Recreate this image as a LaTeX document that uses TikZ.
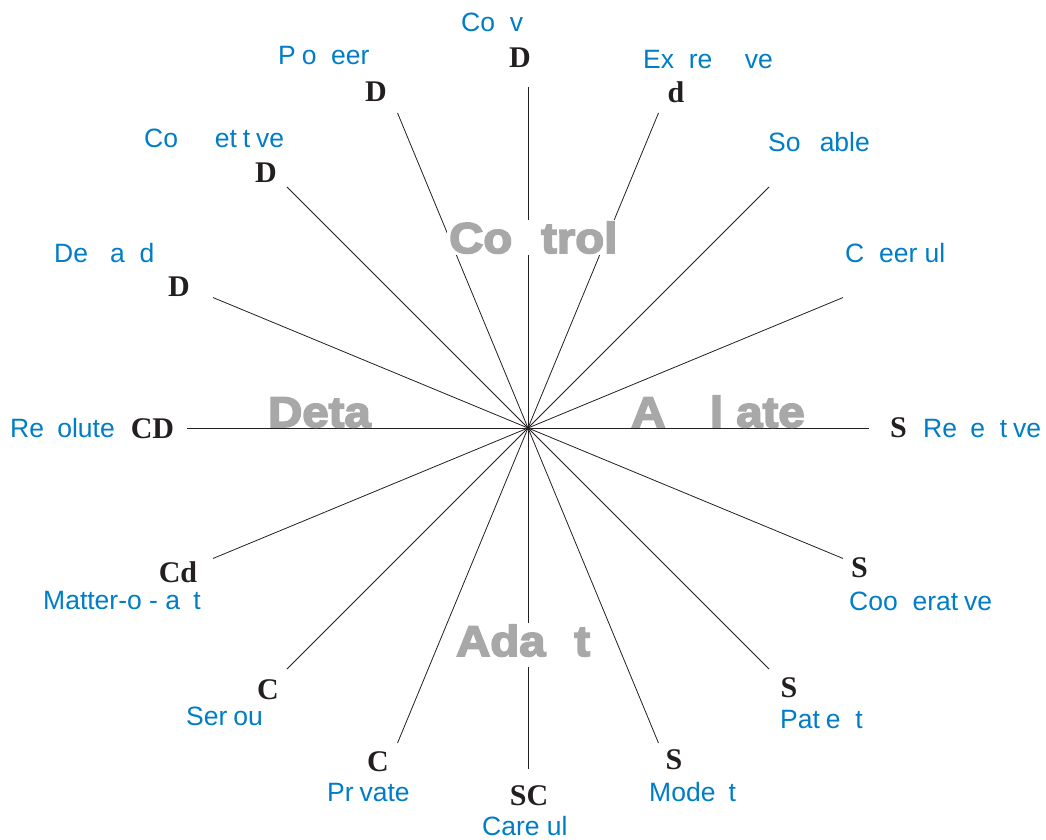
\documentclass[tikz,border=0pt]{standalone}
\usepackage{fontspec}
\setmainfont{Liberation Sans}
\newfontfamily\serifb{Liberation Serif}
\newfontfamily\grayfont{Liberation Sans}[FakeStretch=1.1,BoldFeatures={FakeBold=4}]
\definecolor{lblblue}{RGB}{0,125,198}
\definecolor{quadgray}{RGB}{168,168,168}
\definecolor{codeblack}{RGB}{35,31,32}
\tikzset{
  ray/.style={draw=codeblack, line width=0.8pt},
  code/.style={font=\serifb\bfseries\fontsize{30}{30}\selectfont, text=codeblack, inner sep=0pt, anchor=center},
  trait/.style={font=\fontsize{26.5}{26.5}\selectfont, text=lblblue, anchor=base west, inner sep=0pt},
  quad/.style={font=\grayfont\bfseries\fontsize{43}{43}\selectfont, text=quadgray, anchor=base west, inner sep=0pt},
  quadbox/.style={quad, fill=white, inner sep=2pt}
}
\begin{document}
\begin{tikzpicture}[x=1pt,y=-1pt]
\useasboundingbox (0,0) rectangle (1046,839);
\coordinate (O) at (528,428);
\foreach \a [count=\i] in {0,22.5,...,337.5}
  \path (O) ++(\a:341pt) coordinate (r\i);
\foreach \i in {1,...,16}
  \draw[ray] (O) -- (r\i);

% quadrant words
\node[quadbox] (control) at (447,253) {Co\phantom{n}trol};
\node[quadbox] (adapt) at (454,656) {Ada\phantom{p}t};
\node[quad] (detach) at (268,427) {Deta\phantom{ch}};
\node[quad] (affiliate) at (631,427) {A\phantom{ffi}l\phantom{i}ate};

% codes
\node[code] (c1) at (520,58) {D};
\node[code] (c2) at (376,92) {D};
\node[code] (c3) at (676,92) {d};
\node[code] (c4) at (266,173) {D};
\node[code] (c5) at (179,287) {D};
\node[code] (c6) at (152.5,429) {CD};
\node[code] (c7) at (178,572) {Cd};
\node[code] (c8) at (268,690) {C};
\node[code] (c9) at (378,762) {C};
\node[code] (c10) at (529,796) {SC};
\node[code] (c11) at (674,760) {S};
\node[code] (c12) at (789,688) {S};
\node[code] (c13) at (859.5,568) {S};
\node[code] (c14) at (898.5,428) {S};

% traits
\node[trait] (t1) at (461,31) {Co\phantom{n}v\phantom{incing}};
\node[trait] (t2) at (278,64) {P\phantom{i}o\phantom{n}eer};
\node[trait] (t3) at (643,68) {Ex\phantom{p}re\phantom{ssi}ve};
\node[trait] (t4) at (768,151) {So\phantom{ci}able};
\node[trait] (t5) at (845,262) {C\phantom{h}eer\phantom{f}ul};
\node[trait] (t6) at (144,147) {Co\phantom{mp}et\phantom{i}t\phantom{i}ve};
\node[trait] (t7) at (54,262) {De\phantom{m}a\phantom{n}d\phantom{ing}};
\node[trait] (t8) at (10,437) {Re\phantom{s}olute};
\node[trait] (t9) at (43,609) {Matter-o\phantom{f}-\phantom{f}a\phantom{c}t};
\node[trait] (t10) at (186,725) {Ser\phantom{i}ou\phantom{s}};
\node[trait] (t11) at (327,801) {Pr\phantom{i}vate};
\node[trait] (t12) at (482,835) {Care\phantom{f}ul};
\node[trait] (t13) at (649,801) {Mode\phantom{s}t};
\node[trait] (t14) at (780,728) {Pat\phantom{i}e\phantom{n}t};
\node[trait] (t15) at (849,610) {Coo\phantom{p}erat\phantom{i}ve};
\node[trait] (t16) at (923,437) {Re\phantom{c}e\phantom{p}t\phantom{i}ve};
\end{tikzpicture}
\end{document}
